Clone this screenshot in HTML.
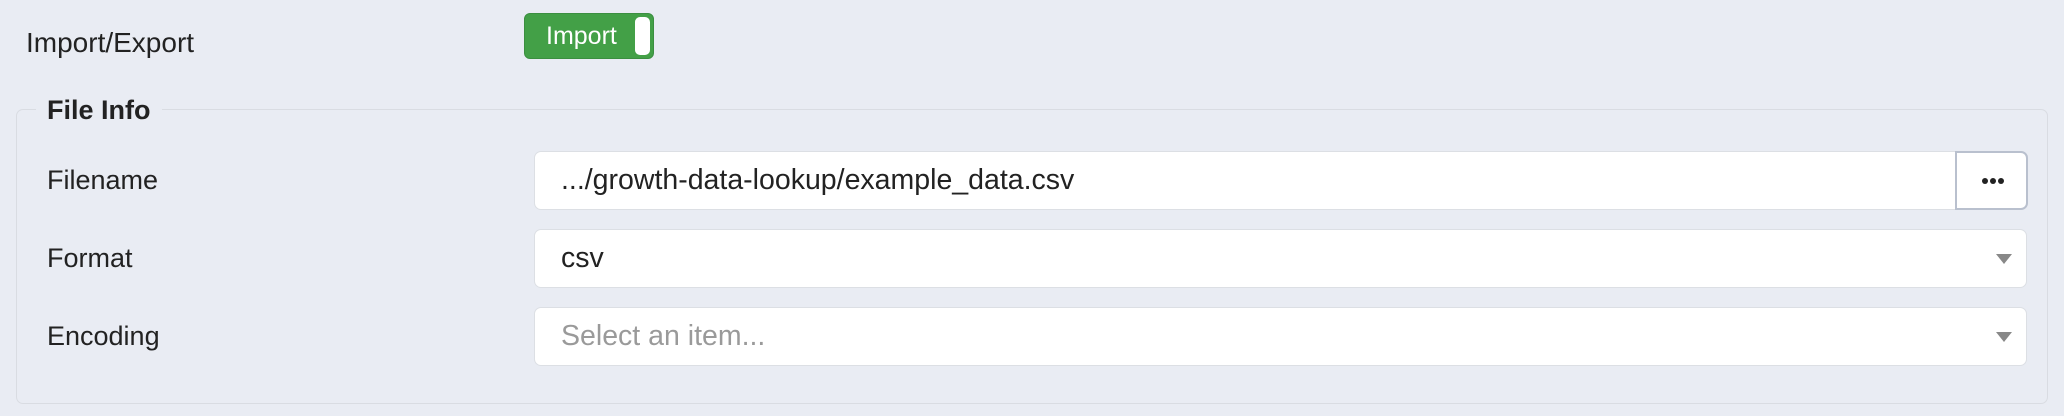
<!DOCTYPE html>
<html><head><style>
body{margin:0;width:2064px;height:416px;background:#e9ecf3;font-family:"Liberation Sans",sans-serif;position:relative;overflow:hidden;color:#222}
.a{position:absolute}
.lbl{font-size:27px;line-height:30px}
.inp{position:absolute;left:534px;width:1493px;height:59px;background:#fff;border:1.5px solid #dcdfe4;border-radius:7px;box-sizing:border-box;font-size:28.5px;line-height:56px;padding-left:26px;color:#222}
.arr{position:absolute;right:14px;top:24px;width:0;height:0;border-left:8px solid transparent;border-right:8px solid transparent;border-top:10px solid #888}
</style></head><body>
<div class="a lbl" style="left:26px;top:28px;font-size:28px">Import/Export</div>
<div class="a" style="left:524px;top:13px;width:130px;height:46px;background:#43a047;border-radius:6px;border:1px solid #3b8f40;box-sizing:border-box">
  <div class="a" style="left:21px;top:7px;color:#fff;font-size:25px;line-height:30px">Import</div>
  <div class="a" style="right:3px;top:3px;width:15px;height:38px;background:#fff;border-radius:5px"></div>
</div>
<div class="a" style="left:16px;top:109px;width:2032px;height:295px;border:1.5px solid #d9dce2;border-radius:7px;box-sizing:border-box"></div>
<div class="a" style="left:36px;top:94px;padding:0 11px;background:#e9ecf3;font-size:27px;font-weight:bold;line-height:32px">File Info</div>
<div class="a lbl" style="left:47px;top:165px">Filename</div>
<div class="a lbl" style="left:47px;top:243px">Format</div>
<div class="a lbl" style="left:47px;top:321px">Encoding</div>
<div class="inp" style="top:151px;border-radius:7px">.../growth-data-lookup/example_data.csv
  <div class="a" style="right:-1.5px;top:-1.5px;width:73px;height:59px;border:2px solid #b9c0ce;border-radius:0 7px 7px 0;box-sizing:border-box;background:#fff">
    <div class="a" style="left:25px;top:25px;width:6px;height:6px;border-radius:3px;background:#222"></div>
    <div class="a" style="left:33px;top:25px;width:6px;height:6px;border-radius:3px;background:#222"></div>
    <div class="a" style="left:41px;top:25px;width:6px;height:6px;border-radius:3px;background:#222"></div>
  </div>
</div>
<div class="inp" style="top:229px">csv<div class="arr"></div></div>
<div class="inp" style="top:307px;color:#9a9a9a">Select an item...<div class="arr"></div></div>
</body></html>
